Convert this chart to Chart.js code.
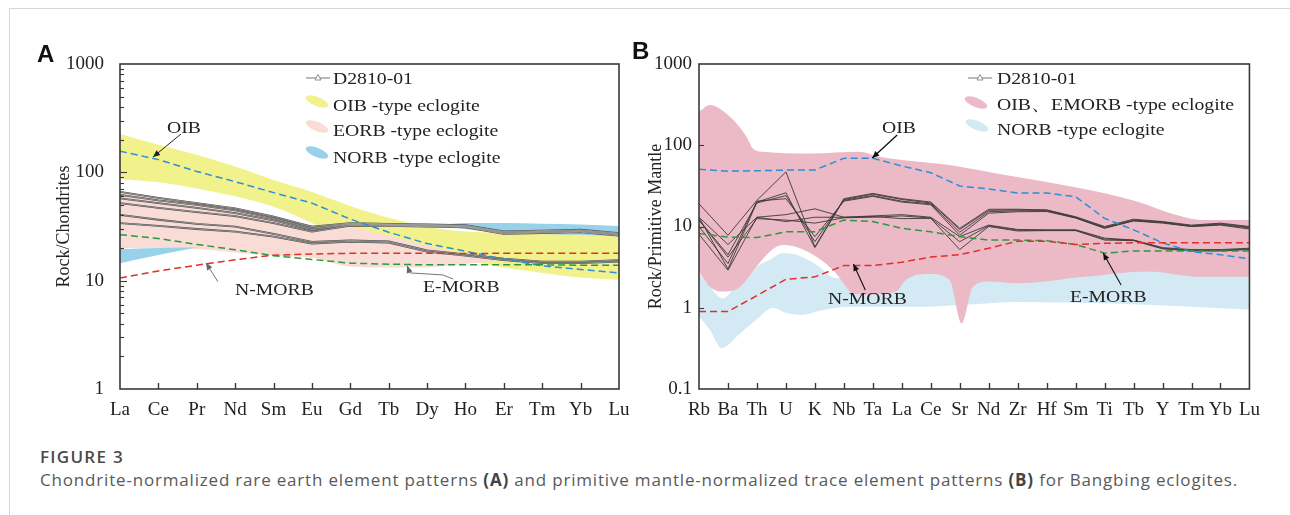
<!DOCTYPE html>
<html><head><meta charset="utf-8">
<script src="https://cdn.jsdelivr.net/npm/chart.js@4.4.1/dist/chart.umd.min.js"></script>
<style>
html,body{margin:0;padding:0;background:#fff;}
body{width:1290px;height:515px;position:relative;overflow:hidden;font-family:'Liberation Serif','Times New Roman',serif;}
#frame{position:absolute;left:9px;top:8px;width:1300px;height:520px;border-left:1px solid #d6d6d6;border-top:1px solid #d6d6d6;}
canvas{position:absolute;top:0;}
#cA{left:0;}
#cB{left:630px;}
.t{position:absolute;font-size:17.6px;color:#222;white-space:nowrap;line-height:1;transform:scaleX(1.12);transform-origin:0 0;}
.panel{position:absolute;font-family:'Liberation Sans',Arial,sans-serif;font-weight:bold;font-size:24px;line-height:1;color:#111;}
.blob{position:absolute;width:24px;height:9px;border-radius:50%;transform:rotate(22deg);}
.sym{position:absolute;}
#fig{position:absolute;left:40px;top:448px;font-family:'Open Sans','Noto Sans',sans-serif;font-size:17px;font-weight:600;line-height:1;color:#4a4a4a;white-space:nowrap;}
#cap{position:absolute;left:40px;top:471px;font-family:'Open Sans','Noto Sans',sans-serif;font-size:17px;line-height:1;color:#5a5a5a;white-space:nowrap;}
#cap b{font-weight:bold;color:#444;}
</style></head>
<body>
<div id="frame"></div>
<canvas id="cA" width="640" height="440"></canvas>
<canvas id="cB" width="640" height="440"></canvas>

<div class="panel" style="left:37px;top:42px">A</div>
<div class="panel" style="left:632px;top:39px">B</div>

<!-- legend A -->
<svg class="sym" style="left:306px;top:73px" width="24" height="10"><line x1="0" y1="5" x2="24" y2="5" stroke="#777" stroke-width="1"/><polygon points="12,1.5 15,7 9,7" fill="#fff" stroke="#777" stroke-width="0.8"/></svg>
<div class="t" style="left:333px;top:70.4px">D2810-01</div>
<div class="blob" style="left:305px;top:96.5px;background:#f1f28c"></div>
<div class="t" style="left:333px;top:97.4px">OIB -type eclogite</div>
<div class="blob" style="left:305px;top:121.5px;background:#f8dcd5"></div>
<div class="t" style="left:333px;top:122.4px">EORB -type eclogite</div>
<div class="blob" style="left:305px;top:147.5px;background:#97d2ea"></div>
<div class="t" style="left:333px;top:149px">NORB -type eclogite</div>

<!-- legend B -->
<svg class="sym" style="left:968px;top:73px" width="24" height="10"><line x1="0" y1="5" x2="24" y2="5" stroke="#777" stroke-width="1"/><polygon points="12,1.5 15,7 9,7" fill="#fff" stroke="#777" stroke-width="0.8"/></svg>
<div class="t" style="left:997px;top:70.4px">D2810-01</div>
<div class="blob" style="left:964px;top:97.5px;background:#ecb9c6"></div>
<div class="t" style="left:997px;top:96.4px">OIB、EMORB -type eclogite</div>
<div class="blob" style="left:965px;top:120.5px;background:#d3e9f4"></div>
<div class="t" style="left:997px;top:121.4px">NORB -type eclogite</div>

<!-- annotation labels -->
<div class="t" style="left:167px;top:119px">OIB</div>
<div class="t" style="left:235px;top:281.4px">N-MORB</div>
<div class="t" style="left:423px;top:278px">E-MORB</div>
<div class="t" style="left:882px;top:119px">OIB</div>
<div class="t" style="left:828px;top:290px">N-MORB</div>
<div class="t" style="left:1070px;top:287.5px">E-MORB</div>

<div id="fig">FIGURE 3</div>
<div id="cap">Chondrite-normalized rare earth element patterns <b>(A)</b> and primitive mantle-normalized trace element patterns <b>(B)</b> for Bangbing eclogites.</div>

<script>
// ---------------- Panel A data (chondrite-normalized REE) ----------------
const catsA = ['La','Ce','Pr','Nd','Sm','Eu','Gd','Tb','Dy','Ho','Er','Tm','Yb','Lu'];
const yTicksA = [1, 10, 100, 1000];
const yTickLabelsA = ['1', '10', '100', '1000'];

const oibA   = [157,131,102,82,65,52,37,28,22,18.7,15.8,13.7,12.7,11.8];
const nmorbA = [10.6,12.3,13.9,15.6,17.2,17.6,17.9,17.9,17.9,17.8,17.9,17.9,17.9,17.9];
const emorbA = [26.6,24.5,21.6,19.3,17,15.7,14.5,14.2,14,14,14,14,13.9,13.9];

const sampleA1 = [66,58,52,46.5,39,31.5,34,33.5,33,32.5,28.5,29,29.5,27.5];
const sampleA2 = [62,55,50,44.5,37.5,30.5,33.5,33,32.5,32,28,28.5,29,27];
const sampleA3 = [57.5,52,47,42,36,29.5,33,32.5,32,31.5,27.5,28,28.5,26.5];
const sampleA4 = [52,47,43,39.5,34,28.3,32.3,32,31.5,31,27,27.5,28,26];
const sampleA5 = [40.5,36.5,33.5,31.5,27,22.8,23.5,23,19,17.5,16,15,15,15.5];
const sampleA6 = [34,32,30,28.3,25.5,22,23,22.5,18.5,17,15.5,14.5,14.5,15];

const oibBandAX   = [0,1,2,3,4,5,6,7,8,9,10,11,12,13];
const oibBandATop = [226,180,145,113,85,66,49,38,31.5,28.5,28,28.5,29,28];
const oibBandABot = [87,81,71,60,48,34,23,20.5,18.4,15.5,13.2,11.8,10.7,10.2];

const eorbBandAX   = [0,1,2,3,4,5,6,7,8,9,10];
const eorbBandATop = [67,59,53,47,40,32.5,31,26,21,17.5,15.5];
const eorbBandABot = [20,20,19.6,18.2,17,16.3,13.5,13.2,13.3,14.3,15.5];

const norbBandA1X   = [0,1,1.7,2.05];
const norbBandA1Top = [19.5,20,20.2,20.2];
const norbBandA1Bot = [14.5,17.3,19.3,20.2];
const norbBandA2X   = [8.3,9,10,11,12,13];
const norbBandA2Top = [32.5,34,34,33.5,33,32];
const norbBandA2Bot = [32.5,30,27.5,27,26.5,25.5];

// annotation arrows (data coordinates: category index, value)
const arrowOibA   = [[1.59,226],[0.86,138.5]];
const arrowNmorbA = [[2.55,9.78],[2.24,14.6]];
const arrowEmorbA = [[8.68,10.36],[8.41,11.3],[7.55,11.8],[7.48,13.7]];

// ---------------- Panel B data (primitive-mantle-normalized) ----------------
const catsB = ['Rb','Ba','Th','U','K','Nb','Ta','La','Ce','Sr','Nd','Zr','Hf','Sm','Ti','Tb','Y','Tm','Yb','Lu'];
const yTicksB = [0.1, 1, 10, 100, 1000];
const yTickLabelsB = ['0.1', '1', '10', '100', '1000'];

const oibB   = [50.6,48,48.5,49.5,49.5,69,69,55.6,46,31.5,29,25.8,25.8,23.3,12.6,9.1,6.3,4.9,4.5,4.0];
const nmorbB = [0.9,0.9,1.41,2.24,2.4,3.3,3.3,3.64,4.2,4.5,5.4,6.6,6.6,6.0,6.2,6.3,6.3,6.3,6.3,6.3];
const emorbB = [8.2,7.4,7.3,8.6,8.6,12,11.5,9.5,8.6,7.5,6.8,6.8,6.7,6.0,4.7,5.0,5.0,5.0,5.0,5.0];

const sampleB1 = [19,7.8,21,47,5.6,22,25.5,22,20,9.5,16.3,16.3,16,13.2,10,12.3,11.5,10.4,11,10];
const sampleB2 = [13,3.0,20,26,5.5,21.5,25,21.5,19.5,9.2,15.8,16,15.9,13,9.8,12,11.4,10.2,10.8,9.8];
const sampleB3 = [12,4.5,19.5,24,6.5,21,24,20.5,19,8.5,15.2,15.6,15.6,12.8,9.6,11.8,11.2,10,10.6,9.6];
const sampleB4 = [10,3.5,20.5,22,7.5,20.5,23.5,20,18.5,7.8,14.6,15.2,15.3,12.7,9.5,11.7,11,10,10.4,9.3];
const sampleB5 = [13,6,13,14,16.5,13,13.5,14,13,7.5,10.4,9.2,9.1,9.1,7.2,6.8,5.5,5.2,5.2,5.4];
const sampleB6 = [12,4.2,12.5,12,11,12.8,13,13.5,12.7,6.5,10.2,9.0,9.0,9.0,7.0,6.8,5.4,5.1,5.1,5.3];
const sampleB7 = [8,2.9,13,11.5,13,13,13.3,12.5,12.6,5.2,10.0,8.8,8.9,8.9,6.8,6.7,5.3,5.0,5.0,5.2];

const pinkBandBTopX = [0,0.38,1.07,1.64,1.86,2.2,3.9,5.53,6.2,8.28,9,10.57,12.85,15.15,16.3,17.46,19];
const pinkBandBTop  = [258,313,224,127,91,83,79,83,72,59,54.5,43,31,20.2,14.5,12,12];
const pinkBandBBotX = [0,0.38,0.82,1.41,1.98,2.44,2.89,3.36,4.04,4.73,5.08,5.3,5.88,6.8,7.14,7.94,8.65,9.07,9.45,10,11,13.3,15.5,17.3,19];
const pinkBandBBot  = [2.8,1.8,1.58,1.8,3.2,4.9,5.9,5.6,4.26,2.65,1.8,1.5,1.45,1.58,2.2,2.6,2.2,0.64,1.8,2.1,2.0,2.4,2.8,2.4,2.4];

const blueBandBTopX = [0,0.38,0.82,1.2,1.6,2.0,2.44,2.89,3.36,4.04,4.73,5.3,6.0,7.0,8.0,9.0,11,13.3,15.5,17.3,19];
const blueBandBTop  = [2.7,1.8,1.3,1.7,2.3,3.2,3.9,4.7,4.5,3.4,2.3,2.3,2.4,2.5,2.7,2.6,2.3,2.7,3.1,2.7,2.7];
const blueBandBBotX = [0,0.38,0.78,1.41,1.98,2.55,3.03,3.5,4.3,5.2,6.6,7.9,9.0,11,14.3,19];
const blueBandBBot  = [0.78,0.53,0.32,0.48,0.71,0.99,0.86,0.82,0.94,1.03,1.03,1.03,1.08,1.18,1.13,0.95];

const arrowOibB   = [[6.84,134],[5.98,69.7]];
const arrowNmorbB = [[5.74,1.65],[5.33,3.46]];
const arrowEmorbB = [[14.57,1.9],[13.95,4.72]];

// ---------------- helpers ----------------
const SERIF = "'Liberation Serif','Times New Roman',serif";
const pts = (xs, ys) => xs.map((x, i) => ({x: x, y: ys[i]}));
const idx = arr => arr.map((_, i) => i);

function band(xt, top, xb, bot, color, order) {
  return [
    {data: pts(xt, top), fill: '+1', backgroundColor: color, borderColor: 'rgba(0,0,0,0)', borderWidth: 0,
     pointRadius: 0, tension: 0.4, cubicInterpolationMode: 'monotone', order: order},
    {data: pts(xb, bot), fill: false, borderColor: 'rgba(0,0,0,0)', borderWidth: 0,
     pointRadius: 0, tension: 0.4, cubicInterpolationMode: 'monotone', order: order}
  ];
}
function line(ys, color, width, dash, order) {
  return {data: pts(idx(ys), ys), fill: false, borderColor: color, borderWidth: width, borderDash: dash || [],
          pointRadius: 0, tension: 0, order: order, borderJoinStyle: 'round'};
}

const framePlugin = {
  id: 'frame',
  afterDatasetsDraw(chart, args, o) {
    const {ctx, chartArea: a} = chart;
    const xs = chart.scales.x, ys = chart.scales.y;
    ctx.save();
    ctx.strokeStyle = '#3a3a3a';
    ctx.lineWidth = 1.4;
    xs.ticks.forEach(t => {
      const px = Math.round(xs.getPixelForValue(t.value)) + 0.5;
      if (px > a.left + 2 && px < a.right - 2) {
        ctx.beginPath(); ctx.moveTo(px, a.bottom); ctx.lineTo(px, a.bottom - o.xTick); ctx.stroke();
      }
    });
    ctx.lineWidth = 1.1;
    const mn = ys.min, mx = ys.max;
    for (let d = mn; d < mx * 0.999; d *= 10) {
      const p = Math.round(ys.getPixelForValue(d)) + 0.5;
      if (d > mn) { ctx.beginPath(); ctx.moveTo(a.left, p); ctx.lineTo(a.left + o.major, p); ctx.stroke(); }
      if (o.minor) {
        for (let k = 2; k <= 9; k++) {
          const q = Math.round(ys.getPixelForValue(d * k)) + 0.5;
          ctx.beginPath(); ctx.moveTo(a.left, q); ctx.lineTo(a.left + o.minor, q); ctx.stroke();
        }
      }
    }
    ctx.lineWidth = 1.6;
    ctx.strokeRect(a.left, a.top, a.right - a.left, a.bottom - a.top);
    (o.arrows || []).forEach(ar => {
      const p = ar.pts.map(q => [xs.getPixelForValue(q[0]), ys.getPixelForValue(q[1])]);
      ctx.strokeStyle = ar.color; ctx.fillStyle = ar.color; ctx.lineWidth = ar.width;
      ctx.beginPath(); ctx.moveTo(p[0][0], p[0][1]);
      for (let i = 1; i < p.length; i++) ctx.lineTo(p[i][0], p[i][1]);
      ctx.stroke();
      const [x1, y1] = p[p.length - 2], [x2, y2] = p[p.length - 1];
      const ang = Math.atan2(y2 - y1, x2 - x1), L = 7, W = 3;
      ctx.beginPath();
      ctx.moveTo(x2, y2);
      ctx.lineTo(x2 - L * Math.cos(ang) + W * Math.sin(ang), y2 - L * Math.sin(ang) - W * Math.cos(ang));
      ctx.lineTo(x2 - L * Math.cos(ang) - W * Math.sin(ang), y2 - L * Math.sin(ang) + W * Math.cos(ang));
      ctx.closePath(); ctx.fill();
    });
    ctx.restore();
  }
};

function makeOptions(cats, yMin, yMax, yTicks, yLabels, title, pad, yWidth, tickPad, frameOpts) {
  return {
    responsive: false, animation: false, devicePixelRatio: 1, events: [],
    layout: {padding: pad},
    plugins: {legend: {display: false}, tooltip: {enabled: false}, frame: frameOpts},
    scales: {
      x: {type: 'linear', min: 0, max: cats.length - 1,
          afterBuildTicks: s => { s.ticks = cats.map((c, i) => ({value: i})); },
          afterFit: s => { s.height = 40; },
          ticks: {autoSkip: false, maxRotation: 0, minRotation: 0, padding: 10, color: '#222',
                  font: {family: SERIF, size: 19}, callback: v => cats[Math.round(v)]},
          grid: {display: false, drawTicks: false}, border: {display: false}},
      y: {type: 'logarithmic', min: yMin, max: yMax,
          afterBuildTicks: s => { s.ticks = yTicks.map(v => ({value: v})); },
          afterFit: s => { s.width = yWidth; },
          ticks: {autoSkip: false, padding: tickPad, color: '#222', font: {family: SERIF, size: 19},
                  callback: (v, i) => yLabels[i]},
          title: {display: true, text: title, color: '#222', font: {family: SERIF, size: 18}, padding: {top: 4, bottom: 4}},
          grid: {display: false, drawTicks: false}, border: {display: false}}
    }
  };
}

// ---------------- Chart A ----------------
const dsA = [
  ...band(oibBandAX, oibBandATop, oibBandAX, oibBandABot, '#f1f28c', 60),
  ...band(eorbBandAX, eorbBandATop, eorbBandAX, eorbBandABot, '#f8dcd5', 50),
  ...band(norbBandA1X, norbBandA1Top, norbBandA1X, norbBandA1Bot, '#97d2ea', 40),
  ...band(norbBandA2X, norbBandA2Top, norbBandA2X, norbBandA2Bot, '#97d2ea', 40)
];
[sampleA1, sampleA2, sampleA3, sampleA4, sampleA5, sampleA6].forEach(s => {
  dsA.push(line(s, '#444444', 1.8, null, 21));
  dsA.push(line(s, '#c9c9c9', 0.6, null, 20));
});
dsA.push(line(nmorbA, '#e0302a', 1.5, [7, 4], 10));
dsA.push(line(emorbA, '#2a9a3c', 1.5, [7, 4], 10));
dsA.push(line(oibA, '#2b8fd8', 1.5, [7, 4], 10));

new Chart(document.getElementById('cA'), {
  type: 'line',
  data: {datasets: dsA},
  options: makeOptions(catsA, 1, 1000, yTicksA, yTickLabelsA, 'Rock/Chondrites',
    {left: 49, top: 64, right: 21, bottom: 11}, 71, 16,
    {xTick: 6, major: 7, minor: 4, arrows: [
      {pts: arrowOibA, color: '#222', width: 1},
      {pts: arrowNmorbA, color: '#666', width: 0.9},
      {pts: arrowEmorbA, color: '#666', width: 0.9}]}),
  plugins: [framePlugin]
});

// ---------------- Chart B ----------------
const dsB = [
  ...band(blueBandBTopX, blueBandBTop, blueBandBBotX, blueBandBBot, '#d3e9f4', 60),
  ...band(pinkBandBTopX, pinkBandBTop, pinkBandBBotX, pinkBandBBot, '#ecb9c6', 50)
];
[sampleB1, sampleB2, sampleB3, sampleB4, sampleB5, sampleB6, sampleB7].forEach(s => {
  dsB.push(line(s, '#3a3a3a', 0.9, null, 20));
});
dsB.push(line(nmorbB, '#e0302a', 1.5, [7, 4], 10));
dsB.push(line(emorbB, '#2a9a3c', 1.5, [7, 4], 10));
dsB.push(line(oibB, '#2b8fd8', 1.5, [7, 4], 10));

new Chart(document.getElementById('cB'), {
  type: 'line',
  data: {datasets: dsB},
  options: makeOptions(catsB, 0.1, 1000, yTicksB, yTickLabelsB, 'Rock/Primitive Mantle',
    {left: 11, top: 64, right: 18, bottom: 11}, 58, 7,
    {xTick: 6, major: 5, minor: 0, arrows: [
      {pts: arrowOibB, color: '#111', width: 1.3},
      {pts: arrowNmorbB, color: '#111', width: 1.1},
      {pts: arrowEmorbB, color: '#111', width: 1.1}]}),
  plugins: [framePlugin]
});

// fit caption lines to the reference widths via letter spacing
function fitWidth(el, target) {
  const w = el.getBoundingClientRect().width;
  const n = el.textContent.length;
  el.style.letterSpacing = ((target - w) / n).toFixed(3) + 'px';
}
fitWidth(document.getElementById('fig'), 84);
fitWidth(document.getElementById('cap'), 1198);
</script>
</body></html>
